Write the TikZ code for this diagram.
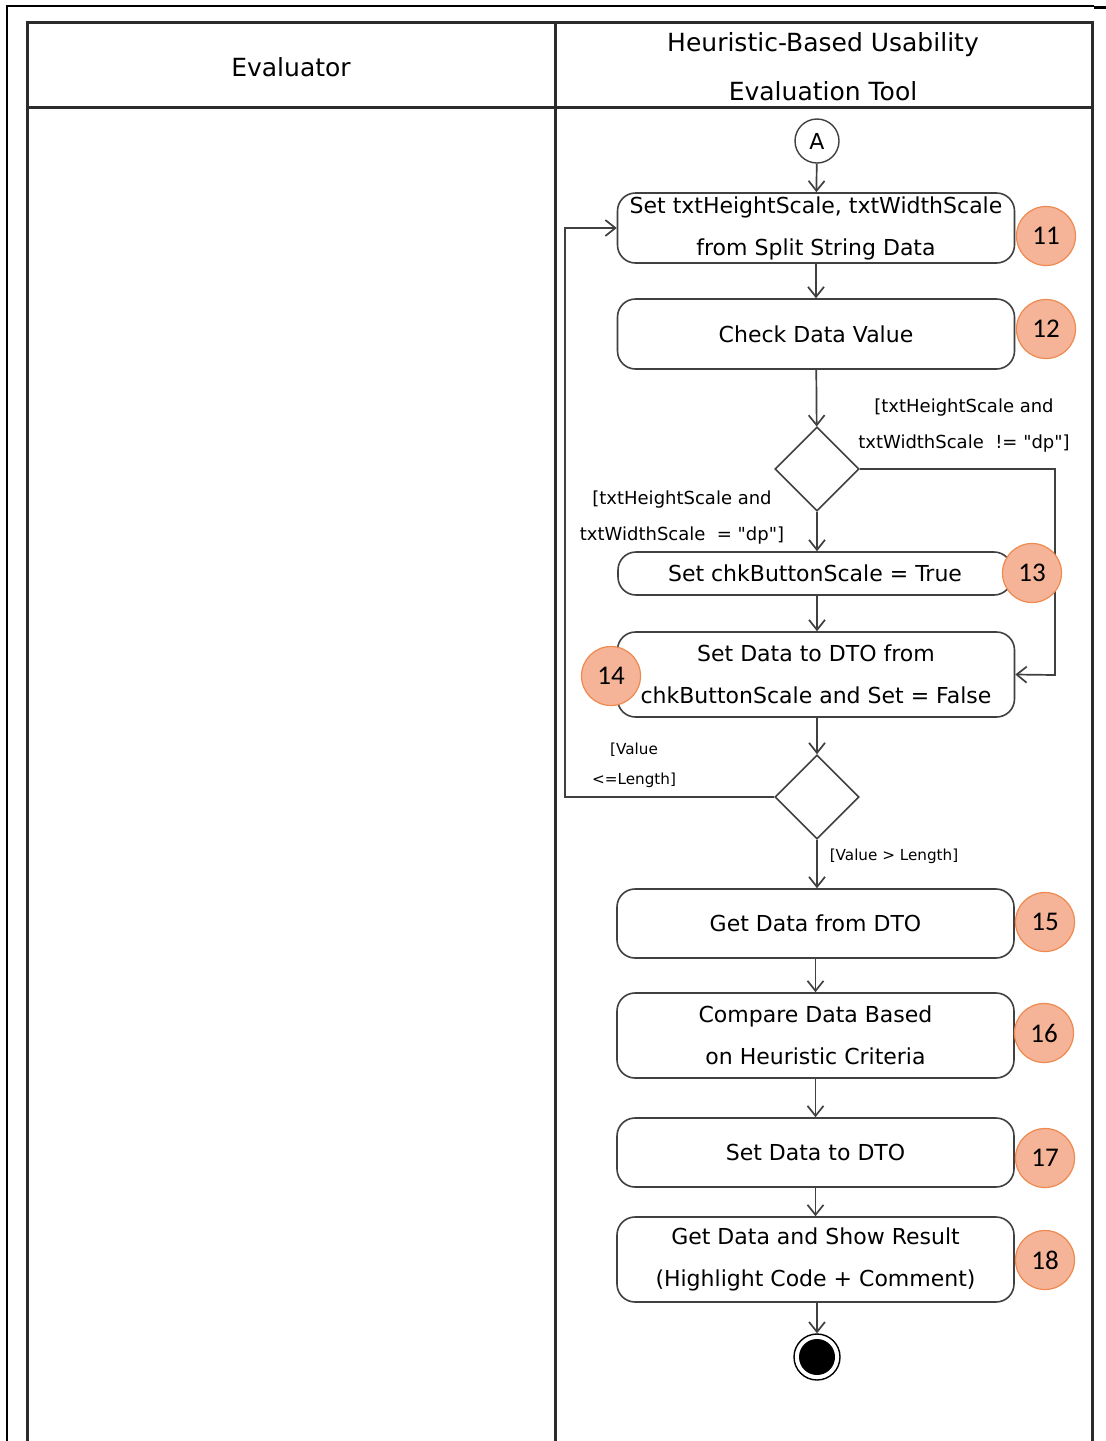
\documentclass[tikz,border=0pt]{standalone}
\usepackage{fontspec}
\setmainfont{DejaVu Sans}
\newfontfamily\numfont{Carlito}
\usetikzlibrary{arrows.meta,shapes.geometric}
\definecolor{linegray}{HTML}{404040}
\definecolor{framegray}{HTML}{2B2B2B}
\definecolor{badgefill}{HTML}{F5B497}
\definecolor{badgeedge}{HTML}{EE8A4F}
\newcommand{\dq}{\textquotedbl}

\begin{document}
\begin{tikzpicture}[x=0.5pt,y=-0.5pt,
  act/.style={draw=linegray, line width=0.8pt, rounded corners=9pt,
    minimum width=198.5pt, inner sep=0pt, align=center,
    font=\fontsize{11}{21}\selectfont},
  decision/.style={draw=linegray, line width=0.8pt, diamond, shape aspect=1,
    minimum width=42pt, minimum height=42pt, inner sep=0pt},
  flow/.style={draw=linegray, line width=0.85pt,
    -{Straight Barb[length=5pt,width=8pt,line width=0.85pt]}},
  guard/.style={align=center, inner sep=0pt, font=\fontsize{9}{18}\selectfont},
  smallguard/.style={align=center, inner sep=0pt, font=\fontsize{7.6}{15}\selectfont},
  badge/.style={circle, draw=badgeedge, fill=badgefill, line width=0.6pt,
    minimum size=29.5pt, inner sep=0pt, font=\numfont\fontsize{13.5}{13.5}\selectfont},
  lane/.style={draw=framegray, line width=1.5pt},
  header/.style={align=center, inner sep=0pt, font=\fontsize{12.5}{24.5}\selectfont}
]
\fill[white] (0,0) rectangle (1106,1441);
\useasboundingbox (0,0) rectangle (1106,1441);

% outer page rules
\draw[black, line width=1pt] (6,6) -- (1094,6);
\draw[black, line width=1.5pt] (1094,7) -- (1106,7);
\draw[black, line width=1pt] (7,6) -- (7,1441);

% swimlane frame
\draw[lane] (27,1441) -- (27,22) -- (1092,22) -- (1092,1441);
\draw[lane] (27,107) -- (1092,107);
\draw[lane] (555,22) -- (555,1441);

\node[header] (hEval) at (291,67) {Evaluator};
\node[header] (hTool) at (823,67) {Heuristic-Based Usability\\Evaluation Tool};

% activity nodes
\node[circle, draw=linegray, line width=0.7pt, minimum size=22pt, inner sep=0pt,
  font=\fontsize{11}{11}\selectfont] (A) at (817,141) {A};
\node[act, minimum height=35pt] (b11) at (816,228) {Set txtHeightScale, txtWidthScale\\from Split String Data};
\node[act, minimum height=35pt] (b12) at (816,334) {Check Data Value};
\node[decision] (d1) at (817,469) {};
\node[act, minimum width=197pt, minimum height=21.5pt] (b13) at (815,573.5) {Set chkButtonScale = True};
\node[act, minimum height=42.5pt] (b14) at (816,674.5) {Set Data to DTO from\\chkButtonScale and Set = False};
\node[decision] (d2) at (817,797) {};
\node[act, minimum height=34.5pt] (b15) at (815.5,923.5) {Get Data from DTO};
\node[act, minimum height=42.5pt] (b16) at (815.5,1035.5) {Compare Data Based\\on Heuristic Criteria};
\node[act, minimum height=34.5pt] (b17) at (815.5,1152.5) {Set Data to DTO};
\node[act, minimum height=42.5pt] (b18) at (815.5,1259.5) {Get Data and Show Result\\(Highlight Code + Comment)};
\node[circle, draw=black, line width=0.7pt, minimum size=23pt, inner sep=0pt] (end) at (817,1357) {};
\node[circle, fill=black, minimum size=18pt, inner sep=0pt] (endcore) at (end.center) {};

% routing points
\coordinate (rTurn) at (1055,675);
\coordinate (lTurn) at (565,228);

% connectors
\draw[flow] (A) -- (b11);
\draw[flow] (b11) -- (b12);
\draw[flow] (b12) -- (d1);
\draw[flow] (d1.south) -- (b13.north -| d1.south);
\draw[flow] (d1.east) -| (rTurn) -- (b14.east);
\draw[flow] (b13.south -| d1.south) -- (b14.north -| d1.south);
\draw[flow] (b14.south -| d2.north) -- (d2.north);
\draw[flow] (d2.west) -| (lTurn) -- (b11.west);
\draw[flow] (d2.south) -- (b15.north -| d2.south);
\draw[flow] (b15) -- (b16);
\draw[flow] (b16) -- (b17);
\draw[flow] (b17) -- (b18);
\draw[flow] (b18.south -| end.north) -- (end.north);

% guard labels
\node[guard] (gNeq) at (964,426) {[txtHeightScale and\\txtWidthScale\ \ != \dq dp\dq]};
\node[guard] (gEq) at (682,518) {[txtHeightScale and\\txtWidthScale\ \ = \dq dp\dq]};
\node[smallguard] (gLe) at (634,765) {[Value\\<=Length]};
\node[smallguard] (gGt) at (894,856) {[Value > Length]};

% step numbers
\node[badge] (n11) at (1046,236) {11};
\node[badge] (n12) at (1046,329) {12};
\node[badge] (n13) at (1032,573) {13};
\node[badge] (n14) at (611,676) {14};
\node[badge] (n15) at (1045,922) {15};
\node[badge] (n16) at (1044,1033) {16};
\node[badge] (n17) at (1045,1158) {17};
\node[badge] (n18) at (1045,1260) {18};
\end{tikzpicture}
\end{document}
